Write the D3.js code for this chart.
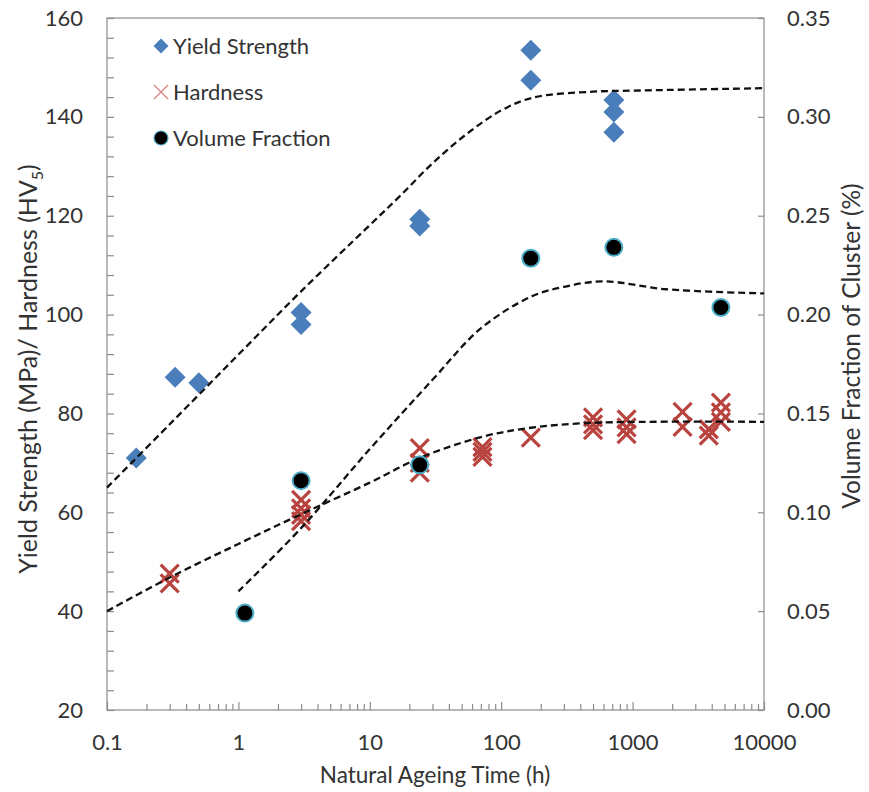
<!DOCTYPE html>
<html>
<head>
<meta charset="utf-8">
<script src="https://cdn.jsdelivr.net/npm/d3@7"></script>
<style>
  body { margin: 0; background: #fff; }
  svg text { font-family: Lato, "Open Sans", sans-serif; fill: #333; }
</style>
</head>
<body>
<svg id="chart" width="869" height="792"></svg>
<script>
// measured points (time in h)
const ysTime  = [0.167, 0.33, 0.5, 3, 3, 24, 24, 168, 168, 720, 720, 720];
const ysValue = [71, 87.3, 86.2, 100.4, 98, 119.3, 117.9, 153.5, 147.4, 143.4, 141, 136.9];

const hvTime  = [0.3, 0.3, 3, 3, 3, 3, 24, 24, 24, 72, 72, 72, 168, 500, 500, 500, 900, 900, 900, 2400, 2400, 3800, 3800, 4700, 4700, 4700];
const hvValue = [47.6, 45.6, 62.5, 60.8, 59.5, 58.2, 73, 70, 68, 73.2, 72.2, 71.2, 75.1, 79.2, 77.8, 76.6, 78.8, 77.2, 75.8, 80.3, 77.3, 76.8, 75.5, 82.2, 80.2, 78.3];

const vfTime  = [1.12, 3, 24, 168, 720, 4700];
const vfValue = [0.049, 0.116, 0.124, 0.2285, 0.234, 0.2036];

// fitted trend curves
const ysFitTime  = [0.1, 0.3, 1, 3, 10, 17, 30, 55, 100, 175, 500, 1000, 10000];
const ysFitValue = [65, 77.8, 91.9, 104.7, 118.1, 124, 130.6, 136.6, 141.3, 143.9, 145.1, 145.3, 145.8];

const hvFitTime  = [0.1, 0.3, 1, 3, 10, 24, 70, 168, 500, 10000];
const hvFitValue = [40, 46.8, 53.6, 59.6, 66, 71, 75.2, 77.1, 78.1, 78.3];

const vfFitTime  = [1, 3, 10, 30, 70, 168, 300, 600, 1800, 10000];
const vfFitValue = [0.060, 0.092, 0.132, 0.167, 0.193, 0.209, 0.214, 0.2168, 0.2128, 0.2107];

const xTicks = [0.1, 1, 10, 100, 1000, 10000];

const L = 107, R = 764, T = 18, B = 710;
const FS = 22;  // tick / legend font size
const svg = d3.select('#chart');

const x = d3.scaleLog().domain([0.1, 10000]).range([L, R]);
const yL = d3.scaleLinear().domain([20, 160]).range([B, T]);
const yR = d3.scaleLinear().domain([0, 0.35]).range([B, T]);

const AXIS = '#8c8c8c';

// frame
svg.append('rect')
  .attr('x', L).attr('y', T).attr('width', R - L).attr('height', B - T)
  .attr('fill', 'none').attr('stroke', AXIS).attr('stroke-width', 1.2);

function styleAxis(g) {
  g.select('.domain').remove();
  g.selectAll('line').attr('stroke', AXIS).attr('stroke-width', 1.2);
  g.selectAll('text').attr('font-size', FS).attr('fill', '#3a3a3a')
    .style('font-family', 'Lato, "Open Sans", sans-serif');
}

// left axis, ticks inward
svg.append('g').attr('transform', `translate(${L},0)`)
  .call(d3.axisLeft(yL).tickValues(d3.range(20, 161, 20))
    .tickSizeInner(-7).tickSizeOuter(0).tickPadding(24))
  .call(styleAxis);
svg.append('g').attr('transform', `translate(${L},0)`)
  .call(d3.axisLeft(yL).tickValues(d3.range(20, 160, 4).filter(v => v % 20 !== 0))
    .tickSizeInner(-7).tickSizeOuter(0).tickFormat(''))
  .call(styleAxis);

// right axis
svg.append('g').attr('transform', `translate(${R},0)`)
  .call(d3.axisRight(yR).tickValues(d3.range(0, 0.351, 0.05))
    .tickFormat(d3.format('.2f')).tickSizeInner(-6).tickSizeOuter(0).tickPadding(23))
  .call(styleAxis);

// bottom axis, log
svg.append('g').attr('transform', `translate(0,${B})`)
  .call(d3.axisBottom(x).tickValues(xTicks).tickFormat(d => String(d))
    .tickSizeInner(-8).tickSizeOuter(0).tickPadding(24))
  .call(styleAxis);
const minor = [];
xTicks.slice(0, -1).forEach(d => { for (let k = 2; k <= 9; k++) minor.push(d * k); });
svg.append('g').attr('transform', `translate(0,${B})`)
  .call(d3.axisBottom(x).tickValues(minor).tickFormat('')
    .tickSizeInner(-6).tickSizeOuter(0))
  .call(styleAxis);

// axis titles
svg.append('text')
  .attr('x', 435).attr('y', 783).attr('text-anchor', 'middle')
  .attr('font-size', 22.5).text('Natural Ageing Time (h)');

const lt = svg.append('text')
  .attr('transform', 'translate(28,369) rotate(-90)')
  .attr('text-anchor', 'middle').attr('dy', '0.35em').attr('font-size', 25);
lt.append('tspan').text('Yield Strength (MPa)/ Hardness (HV');
lt.append('tspan').attr('font-size', 16).attr('dy', 6).text('5');
lt.append('tspan').attr('dy', -6).text(')');

svg.append('text')
  .attr('transform', 'translate(851,346) rotate(-90)')
  .attr('text-anchor', 'middle').attr('dy', '0.35em').attr('font-size', 24.5)
  .text('Volume Fraction of Cluster (%)');

// markers
const BLUE = '#4a7ebb', RED = '#b8433f', TEAL = '#4bacc6';

function drawDiamond(g, cx, cy, h) {
  g.append('path')
    .attr('d', `M${cx},${cy - h}L${cx + h},${cy}L${cx},${cy + h}L${cx - h},${cy}Z`)
    .attr('fill', BLUE);
}
function drawCross(g, cx, cy, h, color, w) {
  g.append('path')
    .attr('d', `M${cx - h},${cy - h}L${cx + h},${cy + h}M${cx - h},${cy + h}L${cx + h},${cy - h}`)
    .attr('stroke', color).attr('stroke-width', w).attr('fill', 'none');
}

const gMarks = svg.append('g');
ysTime.forEach((t, i) => drawDiamond(gMarks, x(t), yL(ysValue[i]), 10.5));
hvTime.forEach((t, i) => drawCross(gMarks, x(t), yL(hvValue[i]), 9, RED, 3.2));

// trend lines
const curve = d3.curveCatmullRom.alpha(0.5);
const lineL = d3.line().x(d => x(d[0])).y(d => yL(d[1])).curve(curve);
const lineR = d3.line().x(d => x(d[0])).y(d => yR(d[1])).curve(curve);
const fits = [
  [lineL, d3.zip(ysFitTime, ysFitValue)],
  [lineL, d3.zip(hvFitTime, hvFitValue)],
  [lineR, d3.zip(vfFitTime, vfFitValue)]
];
fits.forEach(([ln, pts]) => {
  svg.append('path').attr('d', ln(pts))
    .attr('fill', 'none').attr('stroke', '#111')
    .attr('stroke-width', 2.3).attr('stroke-dasharray', '7,4');
});

vfTime.forEach((t, i) => {
  svg.append('circle')
    .attr('cx', x(t)).attr('cy', yR(vfValue[i])).attr('r', 8.5)
    .attr('fill', '#000').attr('stroke', TEAL).attr('stroke-width', 2);
});

// legend
const lg = svg.append('g');
drawDiamond(lg, 161, 46, 7.5);
drawCross(lg, 161, 92, 7, '#d98884', 1.4);
lg.append('circle').attr('cx', 161).attr('cy', 138).attr('r', 7)
  .attr('fill', '#000').attr('stroke', TEAL).attr('stroke-width', 1.2);
['Yield Strength', 'Hardness', 'Volume Fraction'].forEach((s, i) => {
  lg.append('text').attr('x', 173).attr('y', 46 + i * 46).attr('dy', '0.35em')
    .attr('font-size', FS).attr('fill', '#222').text(s);
});
</script>
</body>
</html>
